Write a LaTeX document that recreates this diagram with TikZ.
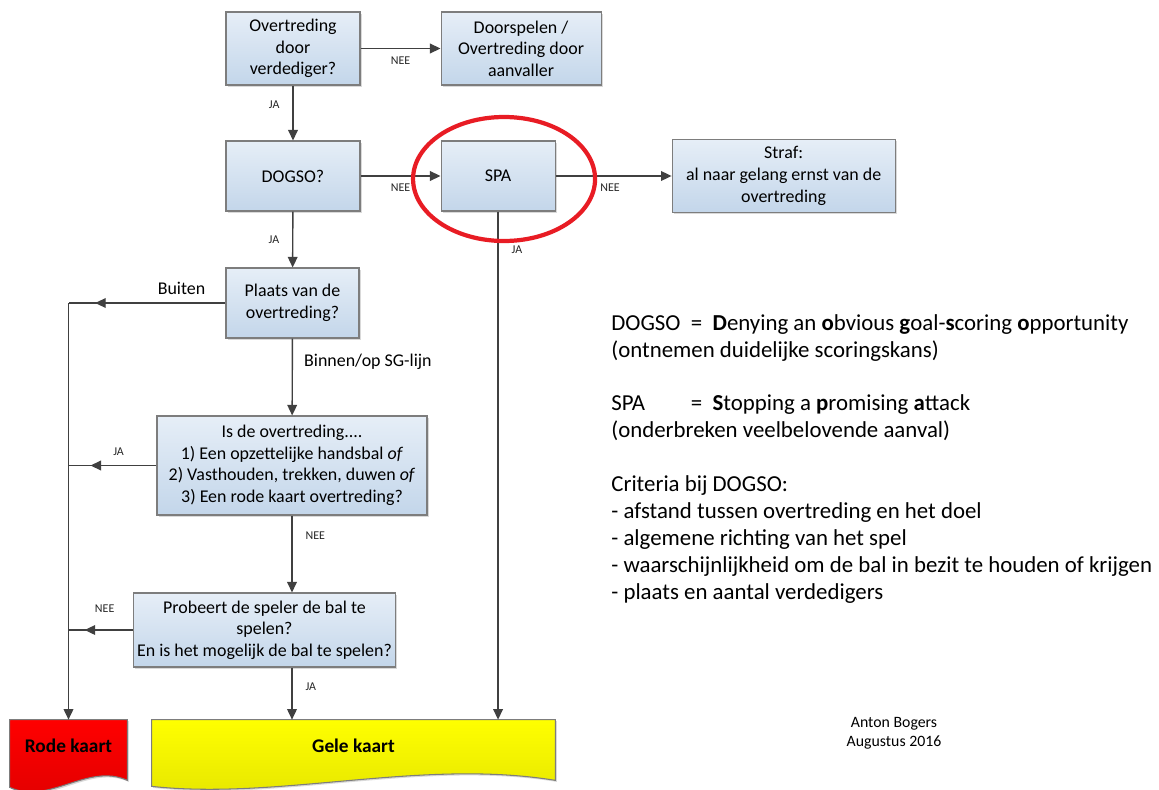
\documentclass[tikz,border=0pt]{standalone}
\usepackage{fontspec}
\setmainfont{Carlito}
\usetikzlibrary{arrows.meta,positioning,shadows,decorations.markings,calc}

\definecolor{boxtop}{RGB}{230,238,247}
\definecolor{boxbot}{RGB}{195,214,234}
\definecolor{boxline}{RGB}{125,125,125}
\definecolor{arrgray}{RGB}{64,64,64}
\definecolor{ringred}{RGB}{232,28,36}

\begin{document}
\begin{tikzpicture}[
  x=0.2mm, y=-0.2mm,
  font=\fontsize{10.2}{12.3}\selectfont,
  >={Triangle[length=6pt,width=5.5pt]},
  box/.style={draw=boxline, line width=0.6pt, top color=boxtop, bottom color=boxbot,
    align=center, inner sep=2pt,
    drop shadow={shadow xshift=0.9pt, shadow yshift=-0.9pt, opacity=0.3}},
  card/.style={draw=none, inner sep=0pt, font=\fontsize{11}{12}\selectfont\bfseries},
  line/.style={->, draw=arrgray, line width=0.8pt},
  midline/.style={draw=arrgray, line width=0.8pt, postaction={decorate},
    decoration={markings, mark=at position #1 with {\arrow{>}}}},
  lbl/.style={font=\fontsize{6.8}{7}\selectfont, text=black!85}
]
\useasboundingbox (0,0) rectangle (1159,789);

% vragen links
\node[box, minimum width=26.8mm, minimum height=14.6mm] (ovt) at (293,48.5) {Overtreding\\door\\verdediger?};
\node[box, right=16mm of ovt, minimum width=32mm, minimum height=14.6mm] (door) {Doorspelen /\\Overtreding door\\aanvaller};
\node[box, minimum width=26.8mm, minimum height=14mm] (dogso) at (293,176) {DOGSO?};
\node[box, right=16mm of dogso, minimum width=22.8mm, minimum height=14mm] (spa) {SPA};
\node[box, right=23.2mm of spa, minimum width=44.6mm, minimum height=14.6mm] (straf) {Straf:\\al naar gelang ernst van de\\overtreding};
\node[box, minimum width=26.6mm, minimum height=14mm] (plaats) at (292.5,303) {Plaats van de\\overtreding?};
\node[box, minimum width=54mm, minimum height=19.8mm] (isde) at (292,465.5) {Is de overtreding....\\1) Een opzettelijke handsbal \textit{of}\\2) Vasthouden, trekken, duwen \textit{of}\\3) Een rode kaart overtreding?};
\node[box, minimum width=43mm, minimum height=14.8mm] (probeer) at (264.5,630) {Probeert de speler de bal te\\spelen?\\En is het mogelijk de bal te spelen?};

% kaarten
\node[card, minimum width=23.4mm, minimum height=12mm] (rode) at (68.5,750) {};
\node[card, minimum width=80.6mm, minimum height=12mm] (gele) at (353.5,750) {};
\path[draw=boxline, line width=0.6pt, top color=red, bottom color=red!88!black,
  drop shadow={shadow xshift=0.9pt, shadow yshift=-0.9pt, opacity=0.3}]
  (rode.north west) -- (rode.north east) -- (rode.south east)
  .. controls ($(rode.south east)+(-40,-18)$) and ($(rode.south west)+(40,25)$) .. ($(rode.south west)+(0,7)$) -- cycle;
\path[draw=boxline, line width=0.6pt, top color=yellow, bottom color=yellow!90!black,
  drop shadow={shadow xshift=0.9pt, shadow yshift=-0.9pt, opacity=0.3}]
  (gele.north west) -- (gele.north east) -- (gele.south east)
  .. controls ($(gele.south east)+(-135,-22)$) and ($(gele.south west)+(128,20)$) .. ($(gele.south west)+(0,6)$) -- cycle;
\node[card] at ($(rode.center)+(0,-4)$) {Rode kaart};
\node[card] at ($(gele.center)+(0,-4)$) {Gele kaart};

\coordinate (b1) at (rode.north |- plaats.west);

% verbindingen
\draw[line] (ovt) -- node[lbl, below=1pt] {NEE} (door);
\draw[line] (ovt) -- node[lbl, left=4pt, pos=0.35] {JA} (dogso);
\draw[line] (dogso) -- node[lbl, below=1pt] {NEE} (spa);
\draw[line] (spa) -- node[lbl, below=1pt, pos=0.47] {NEE} (straf);
\draw[line] (dogso) -- node[lbl, left=4pt, pos=0.5] {JA} (plaats);
\draw[line] (plaats) -- node[right=3pt, pos=0.3] {Binnen/op SG-lijn} (isde);
\draw[line] (spa) -- node[lbl, right=4pt, pos=0.075] {JA} (spa |- gele.north);
\draw[line] (isde) -- node[lbl, right=4pt, pos=0.26] {NEE} (isde.south |- probeer.north);
\draw[line] (isde.south |- probeer.south) -- node[lbl, right=4pt, pos=0.36] {JA} (isde.south |- gele.north);

\draw[midline=0.83] (plaats.west) -- node[above=1pt, pos=0.28] {Buiten} (b1);
\draw[midline=0.75] (isde.west) -- node[lbl, above=2pt, pos=0.43] {JA} (isde.west -| b1);
\draw[midline=0.75] (probeer.west) -- node[lbl, above=6pt, pos=0.44] {NEE} (probeer.west -| b1);
\draw[line] (b1) -- (rode.north);

% rode ring om SPA
\draw[ringred, line width=2.4pt] ($(spa.center)+(6,3)$) ellipse [x radius=18.2mm, y radius=12.4mm];

% toelichting
\node[anchor=base west, align=left, inner sep=0pt, font=\fontsize{13}{15.3}\selectfont] (uitleg) at (611,599)
  {DOGSO\ \ =\ \ \textbf{D}enying an \textbf{o}bvious \textbf{g}oal-\textbf{s}coring \textbf{o}pportunity\\
   (ontnemen duidelijke scoringskans)\\[15.3pt]
   \rlap{SPA}\phantom{DOGSO}\ \ =\ \ \textbf{S}topping a \textbf{p}romising \textbf{a}ttack\\
   (onderbreken veelbelovende aanval)\\[15.3pt]
   Criteria bij DOGSO:\\
   - afstand tussen overtreding en het doel\\
   - algemene richting van het spel\\
   - waarschijnlijkheid om de bal in bezit te houden of krijgen\\
   - plaats en aantal verdedigers};

\node[align=center, font=\fontsize{9}{10.8}\selectfont] (auteur) at (894,733) {Anton Bogers\\Augustus 2016};
\end{tikzpicture}
\end{document}
